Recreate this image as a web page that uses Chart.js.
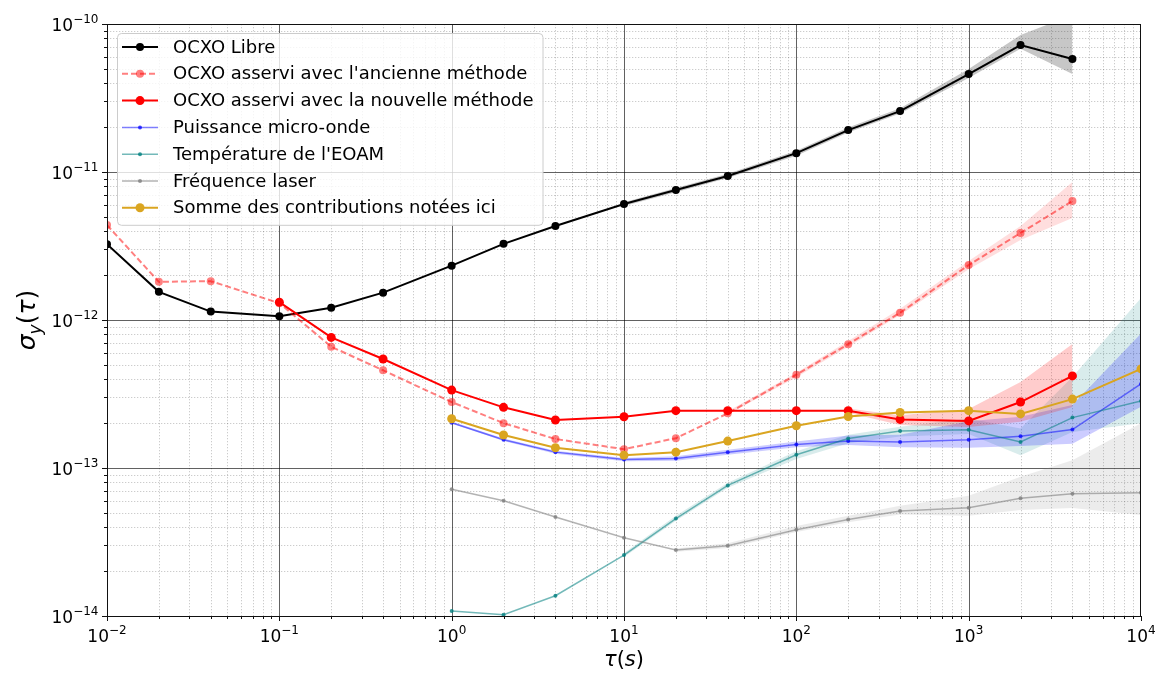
<!DOCTYPE html>
<html><head><meta charset="utf-8">
<script src="https://cdn.jsdelivr.net/npm/chart.js@4.4.0/dist/chart.umd.min.js"></script>
<style>html,body{margin:0;padding:0;background:#fff}canvas{display:block}</style>
</head><body>
<canvas id="c" width="1156" height="673"></canvas>
<script>
const N = null;
// Averaging time tau (s)
const tau = [0.01,0.02,0.04,0.1,0.2,0.4,1,2,4,10,20,40,100,200,400,1000,2000,4000,10000];

// Series values (Allan deviation)
const ocxoLibre = [3.25e-12,1.55e-12,1.14e-12,1.06e-12,1.21e-12,1.53e-12,2.33e-12,3.27e-12,4.32e-12,6.08e-12,7.55e-12,9.4e-12,1.34e-11,1.92e-11,2.58e-11,4.59e-11,7.21e-11,5.8e-11,N];
const ocxoAncienne = [4.38e-12,1.81e-12,1.83e-12,1.30e-12,6.6e-13,4.57e-13,2.79e-13,2.01e-13,1.57e-13,1.34e-13,1.59e-13,2.34e-13,4.27e-13,6.87e-13,1.12e-12,2.35e-12,3.87e-12,6.37e-12,N];
const ocxoNouvelle = [N,N,N,1.32e-12,7.63e-13,5.45e-13,3.36e-13,2.57e-13,2.11e-13,2.22e-13,2.44e-13,2.44e-13,2.44e-13,2.44e-13,2.13e-13,2.08e-13,2.79e-13,4.19e-13,N];
const puissanceMO = [N,N,N,N,N,N,2.02e-13,1.55e-13,1.28e-13,1.14e-13,1.16e-13,1.28e-13,1.44e-13,1.52e-13,1.50e-13,1.55e-13,1.64e-13,1.82e-13,3.70e-13];
const temperatureEOAM = [N,N,N,N,N,N,1.08e-14,1.02e-14,1.37e-14,2.58e-14,4.55e-14,7.63e-14,1.23e-13,1.58e-13,1.78e-13,1.81e-13,1.50e-13,2.19e-13,2.84e-13];
const frequenceLaser = [N,N,N,N,N,N,7.18e-14,6.01e-14,4.67e-14,3.38e-14,2.79e-14,2.98e-14,3.83e-14,4.48e-14,5.12e-14,5.39e-14,6.24e-14,6.7e-14,6.8e-14];
const sommeContrib = [N,N,N,N,N,N,2.15e-13,1.67e-13,1.37e-13,1.22e-13,1.28e-13,1.52e-13,1.93e-13,2.23e-13,2.37e-13,2.44e-13,2.32e-13,2.92e-13,4.67e-13];

// Uncertainty bands (lower / upper)
const libreLow  = [N,N,N,N,N,N,N,N,N,5.9e-12,7.3e-12,9.1e-12,1.29e-11,1.85e-11,2.48e-11,4.31e-11,6.8e-11,4.6e-11,N];
const libreHigh = [N,N,N,N,N,N,N,N,N,6.25e-12,7.8e-12,9.75e-12,1.39e-11,2.0e-11,2.7e-11,4.97e-11,8.43e-11,1.15e-10,N];
const ancLow    = [N,N,N,N,N,N,N,N,N,N,N,2.3e-13,4.1e-13,6.6e-13,1.08e-12,2.2e-12,3.47e-12,4.89e-12,N];
const ancHigh   = [N,N,N,N,N,N,N,N,N,N,N,2.42e-13,4.4e-13,7.2e-13,1.19e-12,2.5e-12,4.31e-12,8.55e-12,N];
const nouvLow   = [N,N,N,N,N,N,N,N,N,N,N,N,N,2.36e-13,1.95e-13,1.89e-13,2.05e-13,2.58e-13,N];
const nouvHigh  = [N,N,N,N,N,N,N,N,N,N,N,N,N,2.52e-13,2.27e-13,2.5e-13,3.81e-13,6.89e-13,N];
const puisLow   = [N,N,N,N,N,N,2.0e-13,1.52e-13,1.25e-13,1.11e-13,1.12e-13,1.23e-13,1.38e-13,1.43e-13,1.38e-13,1.37e-13,1.41e-13,1.46e-13,2.59e-13];
const puisHigh  = [N,N,N,N,N,N,2.06e-13,1.58e-13,1.31e-13,1.17e-13,1.2e-13,1.33e-13,1.51e-13,1.66e-13,1.68e-13,2.07e-13,2.22e-13,2.67e-13,8.1e-13];
const tealLow   = [N,N,N,N,N,N,N,N,N,2.5e-14,4.4e-14,7.35e-14,1.15e-13,1.47e-13,1.63e-13,1.7e-13,1.22e-13,1.75e-13,2.01e-13];
const tealHigh  = [N,N,N,N,N,N,N,N,N,2.66e-14,4.75e-14,7.95e-14,1.3e-13,1.68e-13,1.9e-13,2.16e-13,1.85e-13,4.12e-13,1.41e-12];
const grayLow   = [N,N,N,N,N,N,N,N,N,N,2.72e-14,2.88e-14,3.7e-14,4.3e-14,4.85e-14,4.75e-14,5.2e-14,5.37e-14,4.81e-14];
const grayHigh  = [N,N,N,N,N,N,N,N,N,N,2.86e-14,3.1e-14,4.05e-14,4.75e-14,5.55e-14,6.5e-14,8.73e-14,1.13e-13,2.01e-13];

// Legend labels
const labels = ["OCXO Libre","OCXO asservi avec l'ancienne méthode","OCXO asservi avec la nouvelle méthode","Puissance micro-onde","Température de l'EOAM","Fréquence laser","Somme des contributions notées ici"];

// Tick labels (exponents of 10)
const xTickExp = [-2,-1,0,1,2,3,4];
const yTickExp = [-14,-13,-12,-11,-10];

const pts = arr => tau.map((t,i)=>({x:t,y:arr[i]})).filter(p=>p.y!==null);

function mainDs(label, data, color, opts){
  return Object.assign({label, data:pts(data), borderColor:color, backgroundColor:color,
    pointBackgroundColor:color, pointBorderColor:color, borderWidth:2, pointRadius:4, pointBorderWidth:0,
    fill:false, isMain:true}, opts||{});
}
function bandDs(low, high, color, order){
  return [
    {data:pts(low), borderWidth:0, pointRadius:0, fill:false, order, borderColor:'rgba(0,0,0,0)'},
    {data:pts(high), borderWidth:0, pointRadius:0, fill:'-1', backgroundColor:color, order, borderColor:'rgba(0,0,0,0)'}
  ];
}

const datasets = [
  mainDs(labels[0], ocxoLibre, '#000000', {order:7}),
  mainDs(labels[1], ocxoAncienne, 'rgba(255,0,0,0.5)', {order:6, borderDash:[6,3]}),
  mainDs(labels[2], ocxoNouvelle, '#ff0000', {order:5, pointRadius:4.5}),
  mainDs(labels[3], puissanceMO, 'rgba(0,0,255,0.5)', {order:4, borderWidth:1.5, pointRadius:2, pointBackgroundColor:'rgba(0,0,255,0.75)'}),
  mainDs(labels[4], temperatureEOAM, 'rgba(0,128,128,0.55)', {order:3, borderWidth:1.5, pointRadius:2, pointBackgroundColor:'rgba(0,128,128,0.8)'}),
  mainDs(labels[5], frequenceLaser, 'rgba(128,128,128,0.6)', {order:2, borderWidth:1.5, pointRadius:2, pointBackgroundColor:'rgba(128,128,128,0.8)'}),
  mainDs(labels[6], sommeContrib, '#daa520', {order:1, pointRadius:4.5}),
  ...bandDs(libreLow, libreHigh, 'rgba(0,0,0,0.22)', 20),
  ...bandDs(ancLow, ancHigh, 'rgba(255,0,0,0.13)', 21),
  ...bandDs(nouvLow, nouvHigh, 'rgba(255,0,0,0.2)', 22),
  ...bandDs(puisLow, puisHigh, 'rgba(0,0,255,0.2)', 23),
  ...bandDs(tealLow, tealHigh, 'rgba(0,128,128,0.15)', 24),
  ...bandDs(grayLow, grayHigh, 'rgba(128,128,128,0.15)', 25)
];

const FONT = '"DejaVu Sans", "Liberation Sans", sans-serif';
const XT_I = 'italic 21px "DejaVu Sans", sans-serif';
const XT_R = '21px "DejaVu Sans", sans-serif';
const YT_I = 'italic 25px "DejaVu Sans", sans-serif';
const YT_R = '25px "DejaVu Sans", sans-serif';

function minorVals(e0, e1){ const v=[]; for(let e=e0;e<e1;e++) for(let k=2;k<=9;k++) v.push(k*Math.pow(10,e)); return v; }
function runsWidth(ctx, runs){ let w=0; runs.forEach(r=>{ctx.font=r.f; w+=ctx.measureText(r.t).width;}); return w; }
function drawRuns(ctx, runs, x, y){ runs.forEach(r=>{ctx.font=r.f; ctx.fillText(r.t, x, y+(r.dy||0)); x+=ctx.measureText(r.t).width;}); }

const mpl = {
  id:'mpl',
  beforeDatasetsDraw(chart){
    const {ctx, chartArea:a, scales:{x,y}} = chart;
    ctx.save();
    ctx.beginPath(); ctx.rect(a.left,a.top,a.right-a.left,a.bottom-a.top); ctx.clip();
    ctx.lineWidth = 1;
    const vl = v=>{const p=Math.round(x.getPixelForValue(v))+0.5; ctx.beginPath(); ctx.moveTo(p,a.top); ctx.lineTo(p,a.bottom); ctx.stroke();};
    const hl = v=>{const p=Math.round(y.getPixelForValue(v))+0.5; ctx.beginPath(); ctx.moveTo(a.left,p); ctx.lineTo(a.right,p); ctx.stroke();};
    ctx.strokeStyle='rgba(0,0,0,0.2)'; ctx.setLineDash([1.3,1.7]);
    minorVals(-2,4).forEach(vl); minorVals(-14,-10).forEach(hl);
    ctx.setLineDash([]); ctx.strokeStyle='rgba(0,0,0,0.62)';
    xTickExp.forEach(e=>vl(Math.pow(10,e))); yTickExp.forEach(e=>hl(Math.pow(10,e)));
    ctx.restore();
  },
  afterDatasetsDraw(chart){
    const {ctx, chartArea:a, scales:{x,y}} = chart;
    ctx.save();
    // spines
    ctx.strokeStyle='#111'; ctx.lineWidth=1; ctx.setLineDash([]);
    ctx.strokeRect(Math.round(a.left)+0.5, Math.round(a.top)+0.5, Math.round(a.right-a.left)-1, Math.round(a.bottom-a.top));
    // tick marks
    const tk=(len,isX,v)=>{ ctx.beginPath();
      if(isX){const p=Math.round(x.getPixelForValue(v))+0.5; ctx.moveTo(p,a.bottom); ctx.lineTo(p,a.bottom+len);}
      else {const p=Math.round(y.getPixelForValue(v))+0.5; ctx.moveTo(a.left,p); ctx.lineTo(a.left-len,p);} ctx.stroke(); };
    minorVals(-2,4).forEach(v=>tk(3,true,v)); minorVals(-14,-10).forEach(v=>tk(3,false,v));
    xTickExp.forEach(e=>tk(5,true,Math.pow(10,e))); yTickExp.forEach(e=>tk(5,false,Math.pow(10,e)));
    // tick labels
    ctx.fillStyle='#000'; ctx.textBaseline='alphabetic'; ctx.textAlign='left';
    const lab = e=>[{t:'10',f:'17px '+FONT},{t:(e<0?'\u2212':'')+Math.abs(e),f:'12px '+FONT,dy:-8}];
    xTickExp.forEach(e=>{const r=lab(e); const w=runsWidth(ctx,r); const p=x.getPixelForValue(Math.pow(10,e)); drawRuns(ctx,r,p-w/2,a.bottom+26);});
    yTickExp.forEach(e=>{const r=lab(e); const w=runsWidth(ctx,r); const p=y.getPixelForValue(Math.pow(10,e)); drawRuns(ctx,r,a.left-8.5-w,p+7);});
    // x title: tau(s)
    const xr=[{t:'\u03C4',f:XT_I},{t:'(',f:XT_R},{t:'s',f:XT_I},{t:')',f:XT_R}];
    const xw=runsWidth(ctx,xr); drawRuns(ctx,xr,(a.left+a.right)/2-xw/2,a.bottom+50);
    // y title: sigma_y(tau)
    const yr=[{t:'\u03C3',f:YT_I},{t:'y',f:'italic 17px "DejaVu Sans", sans-serif',dy:6},{t:'(',f:YT_R},{t:'\u03C4',f:YT_I},{t:')',f:YT_R}];
    const yw=runsWidth(ctx,yr);
    ctx.save(); ctx.translate(35,(a.top+a.bottom)/2); ctx.rotate(-Math.PI/2); drawRuns(ctx,yr,-yw/2,0); ctx.restore();
    // legend
    const items = chart.data.datasets.filter(d=>d.isMain);
    const fs=18, lf=fs+'px '+FONT; ctx.font=lf;
    const bx=a.left+10, by=a.top+9, rowH=26.8, hx=bx+5, hl=36, tx=hx+hl+15;
    let mw=0; items.forEach(d=>{mw=Math.max(mw,ctx.measureText(d.label).width);});
    const bw=tx+mw+9-bx, bh=14+rowH*(items.length-1)+17;
    ctx.beginPath(); if(ctx.roundRect) ctx.roundRect(bx+0.5,by+0.5,bw,bh,4); else ctx.rect(bx+0.5,by+0.5,bw,bh);
    ctx.fillStyle='rgba(255,255,255,0.8)'; ctx.fill(); ctx.strokeStyle='#cccccc'; ctx.lineWidth=1; ctx.stroke();
    items.forEach((d,i)=>{
      const cy=by+14+i*rowH;
      ctx.save(); ctx.strokeStyle=d.borderColor; ctx.lineWidth=d.borderWidth; ctx.setLineDash(d.borderDash||[]);
      ctx.beginPath(); ctx.moveTo(hx,cy); ctx.lineTo(hx+hl,cy); ctx.stroke(); ctx.restore();
      ctx.beginPath(); ctx.arc(hx+hl/2,cy,d.pointRadius,0,Math.PI*2); ctx.fillStyle=d.pointBackgroundColor; ctx.fill();
      ctx.fillStyle='#000'; ctx.font=lf; ctx.textBaseline='middle'; ctx.fillText(d.label,tx,cy+1);
    });
    ctx.restore();
  }
};

new Chart(document.getElementById('c'), {
  type:'line',
  data:{datasets},
  options:{
    responsive:false, animation:false, devicePixelRatio:1,
    layout:{padding:{left:107,right:15,top:24,bottom:57}},
    elements:{line:{tension:0}},
    plugins:{legend:{display:false}, tooltip:{enabled:false}},
    scales:{
      x:{type:'logarithmic', min:0.01, max:10000, display:false},
      y:{type:'logarithmic', min:1e-14, max:1e-10, display:false}
    }
  },
  plugins:[mpl]
});
</script>
</body></html>
